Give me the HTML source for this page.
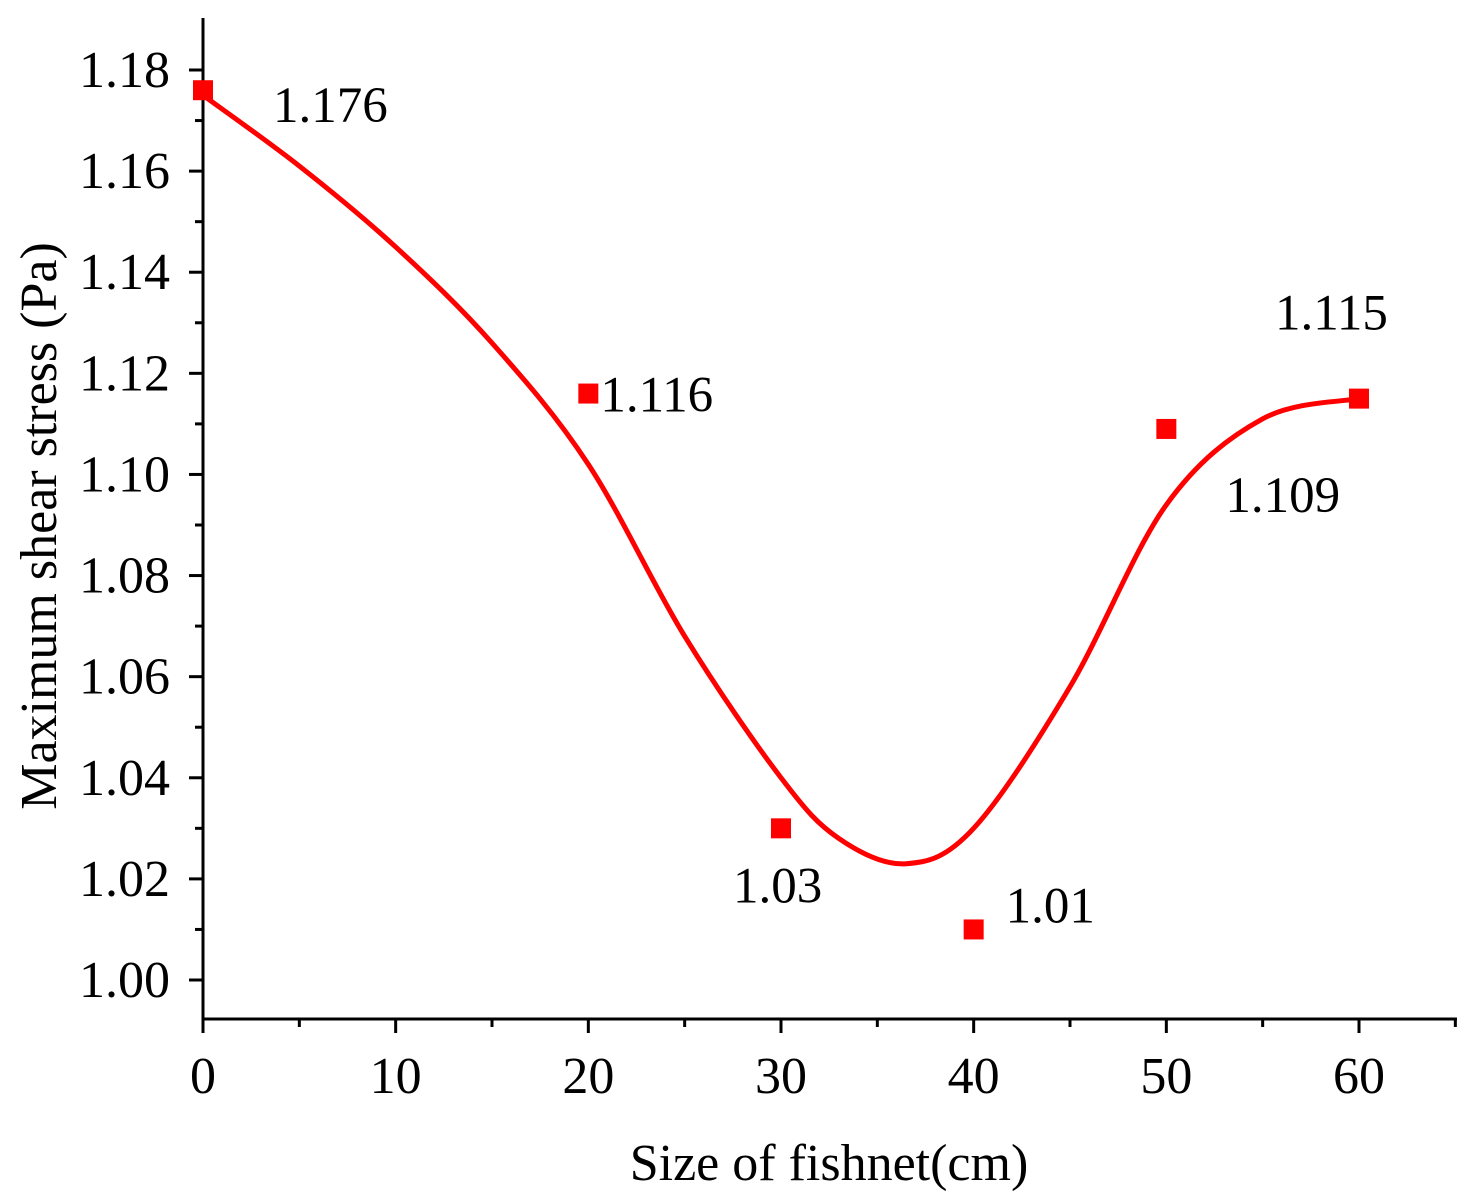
<!DOCTYPE html>
<html><head><meta charset="utf-8"><style>
html,body{margin:0;padding:0;background:#fff;}
svg{display:block;font-family:"Liberation Serif",serif;}
</style></head><body>
<svg id="chart" width="1469" height="1200" viewBox="0 0 1469 1200">
<g id="axes"></g>
<g id="marks"></g>
<text x="829" y="1180" font-size="52" text-anchor="middle">Size of fishnet(cm)</text>
<text transform="translate(56,526) rotate(-90)" font-size="52" text-anchor="middle">Maximum shear stress (Pa)</text>
</svg>
<script>
const xValues=[0,20,30,40,50,60];
const yValues=[1.176,1.116,1.03,1.01,1.109,1.115];
const pointLabels=["1.176","1.116","1.03","1.01","1.109","1.115"];
const labelOffsets=[[70,32],[12,18],[-48,74],[32,-7],[59,83],[-84,-69]];
const fitX=[0,5,10,15,20,25,30,33,36.5,40,45,50,55,60];
const fitY=[1.175,1.161,1.145,1.126,1.102,1.068,1.040,1.028,1.023,1.030,1.058,1.094,1.111,1.115];
const xTicks=[0,10,20,30,40,50,60];
const yTicks=[1.00,1.02,1.04,1.06,1.08,1.10,1.12,1.14,1.16,1.18];
const yTickLabels=["1.00","1.02","1.04","1.06","1.08","1.10","1.12","1.14","1.16","1.18"];
const NS="http://www.w3.org/2000/svg";
const sx=v=>203+v*(1359-203)/60;
const sy=v=>980-(v-1.00)*(980-70)/0.18;
const axes=document.getElementById('axes'),marks=document.getElementById('marks');
function mk(p,tag,attrs){const e=document.createElementNS(NS,tag);for(const k in attrs)e.setAttribute(k,attrs[k]);p.appendChild(e);return e;}
let e=mk(axes,'line',{x1:203,y1:18,x2:203,y2:1020,stroke:'#000','stroke-width':3});


e=mk(axes,'line',{x1:202,y1:1019,x2:1457,y2:1019,stroke:'#000','stroke-width':3});


for(let v=0;v<=65;v+=5){const major=v%10===0;const t=mk(axes,'line',{x1:sx(v),x2:sx(v),y1:1019,y2:1019+(major?14:8),stroke:'#000','stroke-width':3});

}
xTicks.forEach(v=>{const t=mk(axes,'text',{x:sx(v),y:1093,'font-size':52,'text-anchor':'middle'});t.textContent=v;

});
for(let i=-7;i<=19;i++){const v=1+i*0.01;const y=sy(v);if(y<20||y>1019)continue;const major=i%2===0&&i>=0;const t=mk(axes,'line',{x1:203-(major?14:8),x2:203,y1:y,y2:y,stroke:'#000','stroke-width':3});

}
yTicks.forEach((v,i)=>{const t=mk(axes,'text',{x:170,y:sy(v)+17,'font-size':52,'text-anchor':'end'});t.textContent=yTickLabels[i];

});
const pts=fitX.map((x,i)=>[sx(x),sy(fitY[i])]);
let d='M'+pts[0][0]+','+pts[0][1];
for(let i=0;i<pts.length-1;i++){const p0=pts[Math.max(0,i-1)],p1=pts[i],p2=pts[i+1],p3=pts[Math.min(pts.length-1,i+2)];
d+=' C'+(p1[0]+(p2[0]-p0[0])/6)+','+(p1[1]+(p2[1]-p0[1])/6)+' '+(p2[0]-(p3[0]-p1[0])/6)+','+(p2[1]-(p3[1]-p1[1])/6)+' '+p2[0]+','+p2[1];}
const c=mk(marks,'path',{d:d,fill:'none',stroke:'#ff0000','stroke-width':5});


xValues.forEach((x,i)=>{const px=sx(x),py=sy(yValues[i]);
const r=mk(marks,'rect',{x:px-10,y:py-10,width:20,height:20,fill:'#ff0000'});


const t=mk(marks,'text',{x:px+labelOffsets[i][0],y:py+labelOffsets[i][1],'font-size':51});t.textContent=pointLabels[i];

});
</script>
</body></html>
